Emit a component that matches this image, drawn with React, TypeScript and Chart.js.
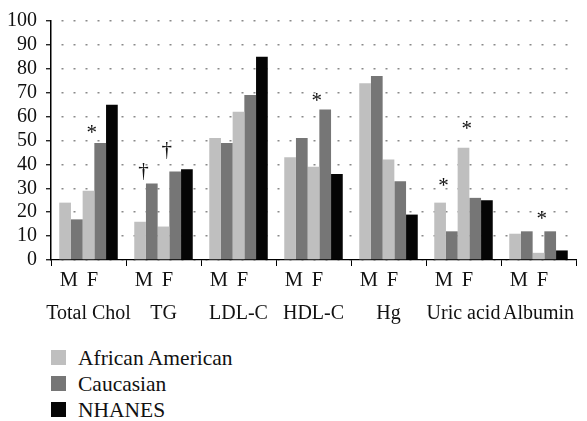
import React, { useEffect, useRef } from "react";
import { Chart, registerables } from "chart.js";

Chart.register(...registerables);

// ---- data ----
const categories = ["Total Chol", "TG", "LDL-C", "HDL-C", "Hg", "Uric acid", "Albumin"];
const aaMale = [24, 16, 51, 43, 74, 24, 11];
const caucMale = [17, 32, 49, 51, 77, 12, 12];
const aaFemale = [29, 14, 62, 39, 42, 47, 3];
const caucFemale = [49, 37, 69, 63, 33, 26, 12];
const nhanes = [65, 38, 85, 36, 19, 25, 4];
const sexLabels = ["M", "F"];
const legendLabels = ["African American", "Caucasian", "NHANES"];
const yMax = 100;
const yStep = 10;

// significance marks: category index, series index (0 AA M, 1 Cauc M, 2 AA F, 3 Cauc F), symbol, value
const markCategory = [0, 1, 1, 3, 5, 5, 6];
const markSeries = [2, 0, 2, 2, 0, 2, 2];
const markSymbol = ["*", "\u2020", "\u2020", "*", "*", "*", "*"];
const markValue = [55, 37, 46, 68, 32.5, 56.5, 19];

// ---- styles ----
const AA_COLOR = "#bfbfbf";
const CAUC_COLOR = "#767676";
const NH_COLOR = "#050505";
const TEXT_COLOR = "#111111";
const FONT_FAMILY = "'Liberation Serif', serif";

const annotationPlugin = {
  id: "annotations",
  afterDatasetsDraw(chart: any) {
    const ctx = chart.ctx;
    const xScale = chart.scales.x;
    const yScale = chart.scales.y;
    ctx.save();
    ctx.fillStyle = TEXT_COLOR;
    ctx.font = `21px ${FONT_FAMILY}`;
    ctx.textAlign = "center";
    ctx.textBaseline = "alphabetic";
    for (let k = 0; k < markCategory.length; k++) {
      const meta = chart.getDatasetMeta(markSeries[k]);
      const bar = meta.data[markCategory[k]];
      if (!bar) continue;
      const x = bar.x + bar.width / 2 - 2.5;
      const yc = yScale.getPixelForValue(markValue[k]);
      const m = ctx.measureText(markSymbol[k]);
      const y = yc + (m.actualBoundingBoxAscent - m.actualBoundingBoxDescent) / 2;
      ctx.fillText(markSymbol[k], x, y);
    }
    ctx.font = `20.5px ${FONT_FAMILY}`;
    ctx.textBaseline = "middle";
    const yLab = xScale.top + 21;
    const m0 = chart.getDatasetMeta(0).data;
    const m1 = chart.getDatasetMeta(1).data;
    const m2 = chart.getDatasetMeta(2).data;
    const m3 = chart.getDatasetMeta(3).data;
    for (let i = 0; i < categories.length; i++) {
      ctx.fillText(sexLabels[0], (m0[i].x + m1[i].x) / 2 - 2, yLab);
      ctx.fillText(sexLabels[1], (m2[i].x + m3[i].x) / 2 - 2, yLab);
    }
    ctx.restore();
  },
};

export default function App() {
  const canvasRef = useRef<HTMLCanvasElement | null>(null);

  useEffect(() => {
    if (!canvasRef.current) return;
    const chart = new Chart(canvasRef.current, {
      type: "bar",
      data: {
        labels: categories,
        datasets: [
          { label: legendLabels[0] + " M", data: aaMale, backgroundColor: AA_COLOR },
          { label: legendLabels[1] + " M", data: caucMale, backgroundColor: CAUC_COLOR },
          { label: legendLabels[0] + " F", data: aaFemale, backgroundColor: AA_COLOR },
          { label: legendLabels[1] + " F", data: caucFemale, backgroundColor: CAUC_COLOR },
          { label: legendLabels[2], data: nhanes, backgroundColor: NH_COLOR },
        ],
      },
      options: {
        responsive: false,
        animation: false,
        events: [],
        layout: { padding: { top: 7, left: 0, right: 11, bottom: 4 } },
        datasets: {
          bar: { categoryPercentage: 0.78, barPercentage: 1.0, borderWidth: 0 },
        },
        plugins: {
          legend: { display: false },
          tooltip: { enabled: false },
        },
        scales: {
          x: {
            offset: true,
            grid: {
              display: true,
              drawOnChartArea: false,
              drawTicks: true,
              tickLength: 6,
              color: "#000",
              tickColor: "#000",
            },
            border: { display: true, color: "#000", width: 1.2 },
            ticks: {
              color: TEXT_COLOR,
              font: { family: FONT_FAMILY, size: 20 },
              padding: 36,
              maxRotation: 0,
              minRotation: 0,
              autoSkip: false,
            },
            afterFit: (s: any) => {
              s.height = 66;
              s.paddingLeft = 0;
              s.paddingRight = 0;
            },
          },
          y: {
            min: 0,
            max: yMax,
            grid: {
              display: true,
              drawTicks: true,
              tickLength: 5,
              color: "#8a8a8a",
              lineWidth: 1.5,
              tickColor: "#000",
              tickWidth: 1.2,
              tickBorderDash: [],
            },
            border: { display: true, color: "#000", width: 1.5, dash: [2, 10], dashOffset: -10 },
            ticks: {
              stepSize: yStep,
              autoSkip: false,
              color: TEXT_COLOR,
              font: { family: FONT_FAMILY, size: 20 },
              padding: 9,
            },
            afterFit: (s: any) => {
              s.width = 51;
            },
          },
        },
      },
      plugins: [annotationPlugin],
    });
    return () => chart.destroy();
  }, []);

  const legendColors = [AA_COLOR, CAUC_COLOR, NH_COLOR];

  return (
    <div
      style={{
        position: "fixed",
        left: 0,
        top: 0,
        width: 587,
        height: 421,
        background: "#fff",
        overflow: "hidden",
      }}
    >
      <canvas
        ref={canvasRef}
        width={587}
        height={330}
        style={{ position: "absolute", left: 0, top: 0, display: "block" }}
      />
      <div style={{ position: "absolute", left: 51, top: 344.5 }}>
        {legendLabels.map((lab, i) => (
          <div key={lab} style={{ height: 26, display: "flex", alignItems: "center" }}>
            <span
              style={{
                width: 15,
                height: 15,
                background: legendColors[i],
                display: "inline-block",
                marginRight: 12,
              }}
            />
            <span
              style={{
                fontFamily: FONT_FAMILY,
                fontSize: 21.5,
                color: TEXT_COLOR,
                lineHeight: "26px",
                whiteSpace: "nowrap",
              }}
            >
              {lab}
            </span>
          </div>
        ))}
      </div>
    </div>
  );
}
